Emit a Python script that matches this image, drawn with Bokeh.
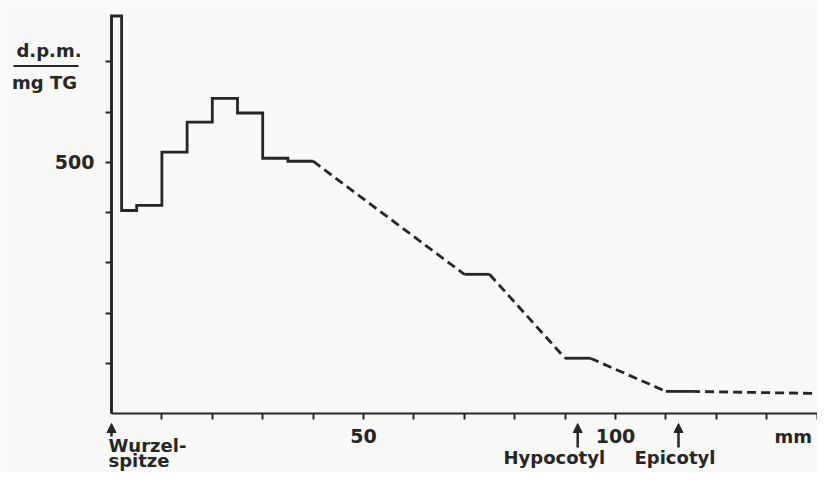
from bokeh.plotting import figure
from bokeh.models import Range1d, FixedTicker, Label, Arrow, NormalHead
from bokeh.embed import file_html
from bokeh.resources import INLINE

# ---------------- data ----------------
step_edges_mm = [0, 2, 5, 10, 15, 20, 25, 30, 35, 40]
step_dpm = [791, 404, 414, 520, 580, 627, 598, 508, 502]
seg_start_mm = [70, 90, 110]
seg_end_mm = [75, 95, 115]
seg_dpm = [277, 110, 44]
tail_end_mm = 145
tail_end_dpm = 39

x_ticks = [10, 20, 30, 40, 50, 60, 70, 80, 90, 100, 110, 120, 130, 140]
x_tick_labels = {50: "50", 100: "100"}
y_ticks = [100, 200, 300, 400, 500, 600, 700]
y_tick_labels = {500: "500"}

INK = "#262626"
BG = "#f8f8f7"
FONT = "DejaVu Sans"
FS = "19px"

W, H = 817, 472
X0_PX, Y0_PX = 111, 413          # canvas position of the origin
PX_PER_MM, PX_PER_UNIT = 5.04, 0.5025
TEXT_DY = 7                      # labels render this many px below their anchor

def px_to_x(px):
    return (px - X0_PX) / PX_PER_MM

def px_to_y(py):
    return (Y0_PX - py) / PX_PER_UNIT

# ---------------- figure (frame fills the canvas, axes fixed at 0) ----------------
p = figure(width=W, height=H,
           x_range=Range1d(px_to_x(0), px_to_x(W)),
           y_range=Range1d(px_to_y(H), px_to_y(0)),
           output_backend="svg", toolbar_location=None,
           min_border=0)
p.background_fill_color = BG
p.border_fill_color = BG
p.outline_line_color = None
p.grid.visible = False

for ax in (p.xaxis[0], p.yaxis[0]):
    ax.fixed_location = 0
    ax.axis_line_color = INK
    ax.axis_line_width = 2.2
    ax.major_tick_line_color = INK
    ax.major_tick_line_width = 2
    ax.major_tick_out = 6
    ax.major_tick_in = 0
    ax.minor_tick_out = 0
    ax.minor_tick_in = 0
    ax.major_label_text_font = FONT
    ax.major_label_text_font_style = "bold"
    ax.major_label_text_font_size = FS
    ax.major_label_text_color = INK

p.xaxis.ticker = FixedTicker(ticks=x_ticks)
p.xaxis.major_label_overrides = {t: x_tick_labels.get(t, "") for t in x_ticks}
p.xaxis.major_label_standoff = 9
p.xaxis.bounds = (0, px_to_x(W))

p.yaxis.ticker = FixedTicker(ticks=y_ticks)
p.yaxis.major_label_overrides = {t: y_tick_labels.get(t, "") for t in y_ticks}
p.yaxis.major_label_standoff = 11
p.yaxis.bounds = (0, max(step_dpm))

# ---------------- solid step histogram 0..40 mm ----------------
sx = [step_edges_mm[0]]
sy = [0]
for i, v in enumerate(step_dpm):
    sx += [step_edges_mm[i], step_edges_mm[i + 1]]
    sy += [v, v]
p.line(sx, sy, line_color=INK, line_width=2.8, line_join="miter")

# ---------------- solid short segments ----------------
p.multi_line([[a, b] for a, b in zip(seg_start_mm, seg_end_mm)],
             [[v, v] for v in seg_dpm],
             line_color=INK, line_width=2.8)

# ---------------- dashed connectors ----------------
from_x = [step_edges_mm[-1]] + seg_end_mm
from_y = [step_dpm[-1]] + seg_dpm
to_x = seg_start_mm + [tail_end_mm]
to_y = seg_dpm + [tail_end_dpm]
p.multi_line([[a, b] for a, b in zip(from_x, to_x)],
             [[a, b] for a, b in zip(from_y, to_y)],
             line_color=INK, line_width=2.8, line_dash="9 5")

# ---------------- annotations ----------------
def lab(text, px, py, align="left", size=FS):
    p.add_layout(Label(x=px_to_x(px), y=px_to_y(py - TEXT_DY), text=text,
                       text_font=FONT, text_font_style="bold",
                       text_font_size=size, text_color=INK, text_align=align,
                       text_baseline="alphabetic"))

# y-axis unit as a fraction
lab("d.p.m.", 48.5, 57, "center", "18px")
lab("mg TG", 44, 89, "center", "18px")
p.add_layout(Arrow(x_start=px_to_x(13), x_end=px_to_x(78),
                   y_start=px_to_y(65.5), y_end=px_to_y(65.5),
                   start=None, end=None, line_color=INK, line_width=2))

# x-axis unit
lab("mm", 774, 443, size="18px")

# markers with arrows
mid_mm = [(a + b) / 2 for a, b in zip(seg_start_mm, seg_end_mm)]
arrow_x = [step_edges_mm[0], mid_mm[1], mid_mm[2]]
arrow_tail = [px_to_y(436), px_to_y(447), px_to_y(447)]
for ax_, ty in zip(arrow_x, arrow_tail):
    p.add_layout(Arrow(x_start=ax_, x_end=ax_, y_start=ty, y_end=px_to_y(423),
                       line_color=INK, line_width=2.5,
                       end=NormalHead(size=9, fill_color=INK, line_color=INK, line_width=1)))

lab("Wurzel-", 108, 452, size="18px")
lab("spitze", 108, 467, size="18px")
lab("Hypocotyl", 503, 464, size="18px")
lab("Epicotyl", 634, 464, size="18px")

open("out.html", "w").write(file_html(p, INLINE))
